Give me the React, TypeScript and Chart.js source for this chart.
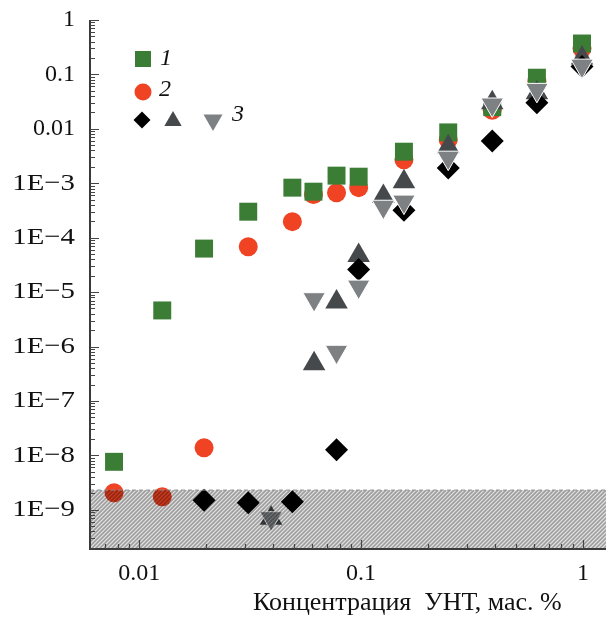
import React, { useEffect, useRef } from 'react';
import { Chart, registerables } from 'chart.js';

Chart.register(...registerables);

// ---- data ----
const sq1X = [0.0077, 0.0127, 0.0196, 0.031, 0.049, 0.061, 0.0775, 0.0975, 0.156, 0.247, 0.39, 0.62, 0.99];
const sq1Y = [7.6e-9, 4.6e-6, 6.3e-5, 3.0e-4, 8.3e-4, 7.0e-4, 1.38e-3, 1.32e-3, 3.8e-3, 8.6e-3, 0.025, 0.087, 0.37];

const circ2X = [0.0077, 0.0127, 0.0196, 0.031, 0.049, 0.061, 0.0775, 0.0975, 0.156, 0.247, 0.39, 0.62, 0.99];
const circ2Y = [2.06e-9, 1.73e-9, 1.38e-8, 6.8e-5, 1.97e-4, 6.2e-4, 6.7e-4, 8.3e-4, 2.7e-3, 6.3e-3, 0.022, 0.075, 0.3];

const diam3X = [0.0196, 0.031, 0.049, 0.0775, 0.0975, 0.156, 0.247, 0.39, 0.62, 0.99];
const diam3Y = [1.5e-9, 1.35e-9, 1.4e-9, 1.26e-8, 2.6e-5, 3.2e-4, 1.9e-3, 6.0e-3, 0.03, 0.14];

const up3X = [0.0393, 0.0614, 0.0775, 0.0975, 0.126, 0.156, 0.247, 0.39, 0.62, 0.99];
const up3Y = [7e-10, 4.8e-7, 6.6e-6, 4.7e-5, 5.7e-4, 1.07e-3, 4.7e-3, 0.03, 0.046, 0.2];

const down3X = [0.0393, 0.0614, 0.0775, 0.0975, 0.126, 0.156, 0.247, 0.39, 0.62, 0.99];
const down3Y = [7e-10, 7.4e-6, 8e-7, 1.26e-5, 3.7e-4, 4.6e-4, 2.95e-3, 0.028, 0.052, 0.145];

const detectionLimit = 2.3e-9;

const xTickValues = [0.01, 0.1, 1];
const xTickLabels = ['0.01', '0.1', '1'];
const yTickValues = [1e-9, 1e-8, 1e-7, 1e-6, 1e-5, 1e-4, 1e-3, 0.01, 0.1, 1];
const yTickLabels = ['1E\u22129', '1E\u22128', '1E\u22127', '1E\u22126', '1E\u22125', '1E\u22124', '1E\u22123', '0.01', '0.1', '1'];
const legendLabels = ['1', '2', '3'];
const xTitle = 'Концентрация  УНТ, мас. %';

const GREEN = '#3c7d36';
const RED = '#ef4323';
const DARK = '#45494c';
const GREY = '#7e8184';
const BLACK = '#000000';
const SERIF = '"Liberation Serif", "Times New Roman", serif';

const pts = (xs: number[], ys: number[]) => xs.map((x, i) => ({ x, y: ys[i] }));

function labelFor(values: number[], labels: string[], v: number) {
  const i = values.findIndex((t) => Math.abs(Math.log10(t) - Math.log10(v)) < 1e-6);
  return i >= 0 ? labels[i] : '';
}

function drawShape(ctx: CanvasRenderingContext2D, kind: string, cx: number, cy: number, r: number, color: string) {
  ctx.save();
  ctx.fillStyle = color;
  ctx.beginPath();
  const s60 = Math.sin(Math.PI / 3);
  if (kind === 'rect') {
    ctx.rect(cx - r, cy - r, 2 * r, 2 * r);
  } else if (kind === 'circle') {
    ctx.arc(cx, cy, r, 0, Math.PI * 2);
  } else if (kind === 'rectRot') {
    ctx.moveTo(cx, cy - r);
    ctx.lineTo(cx + r, cy);
    ctx.lineTo(cx, cy + r);
    ctx.lineTo(cx - r, cy);
    ctx.closePath();
  } else if (kind === 'up') {
    ctx.moveTo(cx, cy - r);
    ctx.lineTo(cx + r * s60, cy + r / 2);
    ctx.lineTo(cx - r * s60, cy + r / 2);
    ctx.closePath();
  } else if (kind === 'down') {
    ctx.moveTo(cx, cy + r);
    ctx.lineTo(cx + r * s60, cy - r / 2);
    ctx.lineTo(cx - r * s60, cy - r / 2);
    ctx.closePath();
  }
  ctx.fill();
  ctx.restore();
}

const decorPlugin = {
  id: 'decor',
  afterDatasetsDraw(chart: any) {
    const { ctx, chartArea: a, scales } = chart;
    const top = scales.y.getPixelForValue(detectionLimit);
    ctx.save();
    ctx.beginPath();
    ctx.rect(a.left, top, a.right - a.left, a.bottom - top);
    ctx.clip();
    ctx.fillStyle = 'rgba(0,0,0,0.12)';
    ctx.fillRect(a.left, top, a.right - a.left, a.bottom - top);
    ctx.strokeStyle = 'rgba(0,0,0,0.3)';
    ctx.lineWidth = 1.6;
    ctx.beginPath();
    const h = a.bottom - top;
    for (let sx = a.left - h; sx < a.right + 6; sx += 4) {
      ctx.moveTo(sx, a.bottom);
      ctx.lineTo(sx + h, top);
    }
    ctx.stroke();
    ctx.restore();

    ctx.save();
    ctx.strokeStyle = '#8a8c8e';
    ctx.lineWidth = 1;
    ctx.setLineDash([4, 3]);
    ctx.beginPath();
    ctx.moveTo(a.left, top);
    ctx.lineTo(a.right, top);
    ctx.stroke();
    ctx.restore();
  },
  afterDraw(chart: any) {
    const { ctx, chartArea: a, scales } = chart;
    const xs = scales.x;
    const ys = scales.y;
    ctx.save();
    // axis lines
    ctx.strokeStyle = '#3a3a3a';
    ctx.lineWidth = 2;
    ctx.beginPath();
    ctx.moveTo(a.left, a.top);
    ctx.lineTo(a.left, a.bottom);
    ctx.lineTo(a.right, a.bottom);
    ctx.stroke();

    // inward ticks
    ctx.lineWidth = 1.2;
    ctx.strokeStyle = '#444';
    ctx.beginPath();
    for (let k = -11; k <= 0; k++) {
      for (let m = 1; m <= 9; m++) {
        const v = m * Math.pow(10, k);
        if (v < ys.min * 0.999 || v > ys.max * 1.001) continue;
        const py = Math.round(ys.getPixelForValue(v)) + 0.5;
        const len = m === 1 ? 9 : 5;
        ctx.moveTo(a.left, py);
        ctx.lineTo(a.left + len, py);
      }
    }
    for (let k = -3; k <= 0; k++) {
      for (let m = 1; m <= 9; m++) {
        const v = m * Math.pow(10, k);
        if (v < xs.min * 1.001 || v > xs.max) continue;
        const px = Math.round(xs.getPixelForValue(v)) + 0.5;
        const len = m === 1 ? 9 : 5;
        ctx.moveTo(px, a.bottom);
        ctx.lineTo(px, a.bottom - len);
      }
    }
    ctx.stroke();

    // y tick labels (the "1E−n" labels are set a bit wider, as in the original typesetting)
    ctx.fillStyle = '#111';
    ctx.font = '24px ' + SERIF;
    ctx.textAlign = 'right';
    ctx.textBaseline = 'middle';
    yTickValues.forEach((v, i) => {
      const py = ys.getPixelForValue(v);
      const label = yTickLabels[i];
      ctx.save();
      ctx.translate(a.left - 15, py);
      if (label.indexOf('E') >= 0) ctx.scale(1.2, 1);
      ctx.fillText(label, 0, 0);
      ctx.restore();
    });

    // legend
    const lx = a.left + 53;
    const ly = a.top + 39;
    drawShape(ctx, 'rect', lx, ly, 8, GREEN);
    drawShape(ctx, 'circle', lx, ly + 33, 8.5, RED);
    drawShape(ctx, 'rectRot', lx - 1, ly + 61, 8.5, BLACK);
    drawShape(ctx, 'up', lx + 30, ly + 62, 10, DARK);
    drawShape(ctx, 'down', lx + 70, ly + 61, 11, GREY);
    ctx.fillStyle = '#111';
    ctx.font = 'italic 24px ' + SERIF;
    ctx.textAlign = 'left';
    ctx.textBaseline = 'middle';
    ctx.fillText(legendLabels[0], lx + 17, ly);
    ctx.fillText(legendLabels[1], lx + 16, ly + 31);
    ctx.fillText(legendLabels[2], lx + 89, ly + 56);

    // x title
    ctx.font = '26px ' + SERIF;
    ctx.textAlign = 'center';
    ctx.textBaseline = 'alphabetic';
    ctx.fillText(xTitle, a.left + (a.right - a.left) * 0.615, a.bottom + 61);
    ctx.restore();
  },
};

function zeroPad(s: any) {
  s.paddingTop = 0;
  s.paddingBottom = 0;
  s.paddingLeft = 0;
  s.paddingRight = 0;
}

export default function App() {
  const ref = useRef<HTMLCanvasElement | null>(null);
  useEffect(() => {
    if (!ref.current) return;
    const chart = new Chart(ref.current, {
      type: 'scatter',
      data: {
        datasets: [
          {
            label: '3 down',
            data: pts(down3X, down3Y),
            pointStyle: 'triangle',
            rotation: 180,
            pointRadius: 13,
            backgroundColor: GREY,
            borderColor: '#ffffff',
            borderWidth: 1,
            order: 0,
          },
          {
            label: '3 diamond',
            data: pts(diam3X, diam3Y),
            pointStyle: 'rectRot',
            pointRadius: 11.5,
            backgroundColor: BLACK,
            borderWidth: 0,
            order: 1,
          },
          {
            label: '3 up',
            data: pts(up3X, up3Y),
            pointStyle: 'triangle',
            pointRadius: 13,
            backgroundColor: DARK,
            borderWidth: 0,
            order: 2,
          },
          {
            label: '1',
            data: pts(sq1X, sq1Y),
            pointStyle: 'rect',
            pointRadius: 12.7,
            backgroundColor: GREEN,
            borderWidth: 0,
            order: 3,
          },
          {
            label: '2',
            data: pts(circ2X, circ2Y),
            pointStyle: 'circle',
            pointRadius: 9.5,
            backgroundColor: RED,
            borderWidth: 0,
            order: 4,
          },
        ],
      } as any,
      options: {
        animation: false,
        responsive: true,
        maintainAspectRatio: false,
        devicePixelRatio: 1,
        layout: { autoPadding: false, padding: { left: 0, right: 3, top: 20, bottom: 0 } },
        plugins: { legend: { display: false }, tooltip: { enabled: false } },
        scales: {
          x: {
            type: 'logarithmic',
            min: 0.006,
            max: 1.27,
            afterBuildTicks: (s: any) => {
              s.ticks = xTickValues.map((v) => ({ value: v }));
            },
            afterFit: (s: any) => {
              s.height = 68;
              zeroPad(s);
            },
            grid: { display: false, drawTicks: false },
            border: { display: false },
            ticks: {
              autoSkip: false,
              maxRotation: 0,
              padding: 10,
              color: '#111',
              font: { family: SERIF, size: 24 },
              callback: (v: any) => labelFor(xTickValues, xTickLabels, Number(v)),
            },
          },
          y: {
            type: 'logarithmic',
            min: 1.9e-10,
            max: 1,
            afterBuildTicks: (s: any) => {
              s.ticks = yTickValues.map((v) => ({ value: v }));
            },
            afterFit: (s: any) => {
              s.width = 90;
              zeroPad(s);
            },
            grid: { display: false, drawTicks: false },
            border: { display: false },
            ticks: {
              display: false,
              autoSkip: false,
            },
          },
        },
      } as any,
      plugins: [decorPlugin],
    });
    return () => chart.destroy();
  }, []);

  return (
    <div style={{ position: 'absolute', left: 0, top: 0, width: 609, height: 617, background: '#fff' }}>
      <canvas ref={ref} />
    </div>
  );
}
